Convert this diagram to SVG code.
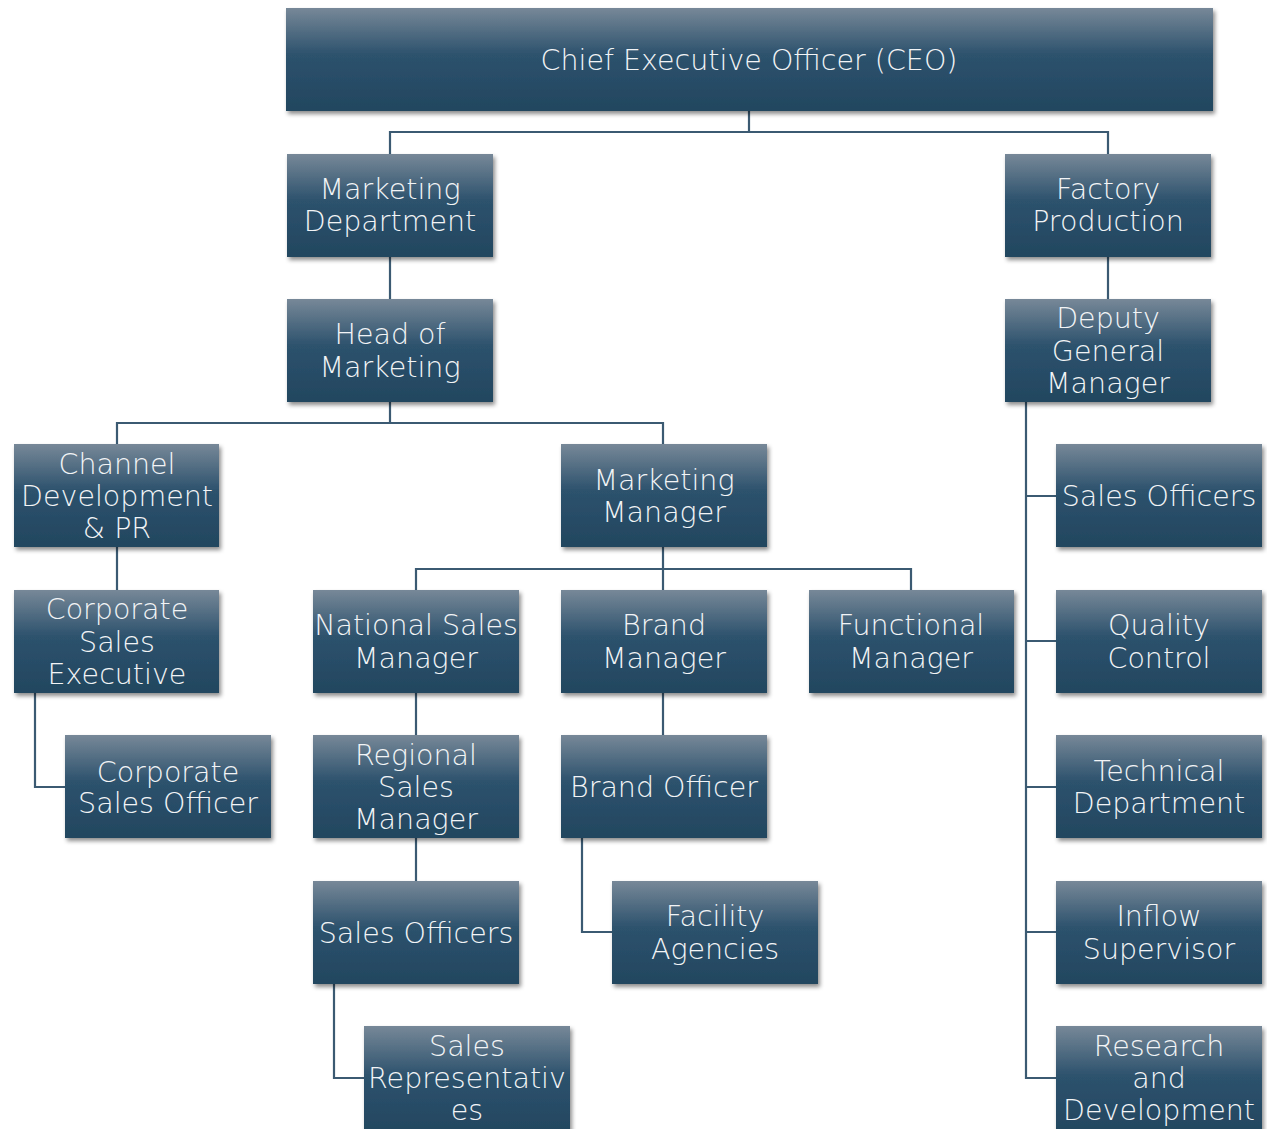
<svg xmlns="http://www.w3.org/2000/svg" width="1267" height="1129" viewBox="0 0 1267 1129">
<defs>
<linearGradient id="g" x1="0" y1="0" x2="0" y2="1">
<stop offset="0" stop-color="#778898"/>
<stop offset="0.45" stop-color="#2d526d"/>
<stop offset="1" stop-color="#22465f"/>
</linearGradient>
<filter id="sh" x="-10%" y="-10%" width="125%" height="130%">
<feDropShadow dx="2" dy="3" stdDeviation="2.2" flood-color="#000" flood-opacity="0.45"/>
</filter>
</defs>
<style>
.n rect{fill:url(#g);filter:url(#sh)}
.n text{font-family:"DejaVu Sans","Liberation Sans",sans-serif;font-weight:200;font-size:28.5px;fill:#f2f4f6;text-anchor:middle}
.c path{fill:none;stroke:#3b5a72;stroke-width:2.2}
</style>
<rect width="1267" height="1129" fill="#fff"/>
<g class="c">
<path d="M749 111V132M390 154V132H1108V154"/>
<path d="M390 257V299"/>
<path d="M390 402V423M117 444V423H663V444"/>
<path d="M117 547V590"/>
<path d="M35 693V787H65"/>
<path d="M663 547V569M416 590V569H911V590M663 569V590"/>
<path d="M416 693V735"/>
<path d="M416 838V881"/>
<path d="M334 984V1078H364"/>
<path d="M663 693V735"/>
<path d="M582 838V932H612"/>
<path d="M1108 257V299"/>
<path d="M1026 402V1078H1056M1026 496H1056M1026 641H1056M1026 787H1056M1026 932H1056"/>
</g>
<g id="ceo" class="n"><rect x="286" y="8" width="927" height="103"/><text x="749" y="70">Chief Executive Officer (CEO)</text></g>
<g id="mkt-dept" class="n"><rect x="287" y="154" width="206" height="103"/><text x="390" y="199">Marketing</text><text x="390" y="231">Department</text></g>
<g id="factory" class="n"><rect x="1005" y="154" width="206" height="103"/><text x="1108" y="199">Factory</text><text x="1108" y="231">Production</text></g>
<g id="head-mkt" class="n"><rect x="287" y="299" width="206" height="103"/><text x="390" y="344">Head of</text><text x="390" y="377">Marketing</text></g>
<g id="dgm" class="n"><rect x="1005" y="299" width="206" height="103"/><text x="1108" y="328">Deputy</text><text x="1108" y="361">General</text><text x="1108" y="393">Manager</text></g>
<g id="channel" class="n"><rect x="14" y="444" width="205" height="103"/><text x="117" y="474">Channel</text><text x="117" y="506">Development</text><text x="117" y="538">&amp; PR</text></g>
<g id="mkt-mgr" class="n"><rect x="561" y="444" width="206" height="103"/><text x="664" y="490">Marketing</text><text x="664" y="522">Manager</text></g>
<g id="so-r" class="n"><rect x="1056" y="444" width="206" height="103"/><text x="1159" y="506">Sales Officers</text></g>
<g id="cse" class="n"><rect x="14" y="590" width="205" height="103"/><text x="117" y="619">Corporate</text><text x="117" y="652">Sales</text><text x="117" y="684">Executive</text></g>
<g id="nsm" class="n"><rect x="313" y="590" width="206" height="103"/><text x="416" y="635">National Sales</text><text x="416" y="668">Manager</text></g>
<g id="brand-mgr" class="n"><rect x="561" y="590" width="206" height="103"/><text x="664" y="635">Brand</text><text x="664" y="668">Manager</text></g>
<g id="func-mgr" class="n"><rect x="809" y="590" width="205" height="103"/><text x="911" y="635">Functional</text><text x="911" y="668">Manager</text></g>
<g id="qc" class="n"><rect x="1056" y="590" width="206" height="103"/><text x="1159" y="635">Quality</text><text x="1159" y="668">Control</text></g>
<g id="cso" class="n"><rect x="65" y="735" width="206" height="103"/><text x="168" y="782">Corporate</text><text x="168" y="813">Sales Officer</text></g>
<g id="rsm" class="n"><rect x="313" y="735" width="206" height="103"/><text x="416" y="765">Regional</text><text x="416" y="797">Sales</text><text x="416" y="829">Manager</text></g>
<g id="brand-off" class="n"><rect x="561" y="735" width="206" height="103"/><text x="664" y="797">Brand Officer</text></g>
<g id="tech" class="n"><rect x="1056" y="735" width="206" height="103"/><text x="1159" y="781">Technical</text><text x="1159" y="813">Department</text></g>
<g id="so-l" class="n"><rect x="313" y="881" width="206" height="103"/><text x="416" y="943">Sales Officers</text></g>
<g id="facility" class="n"><rect x="612" y="881" width="206" height="103"/><text x="715" y="926">Facility</text><text x="715" y="959">Agencies</text></g>
<g id="inflow" class="n"><rect x="1056" y="881" width="206" height="103"/><text x="1159" y="926">Inflow</text><text x="1159" y="959">Supervisor</text></g>
<g id="sales-rep" class="n"><rect x="364" y="1026" width="206" height="110"/><text x="467" y="1056">Sales</text><text x="467" y="1088">Representativ</text><text x="467" y="1120">es</text></g>
<g id="rnd" class="n"><rect x="1056" y="1026" width="206" height="110"/><text x="1159" y="1056">Research</text><text x="1159" y="1088">and</text><text x="1159" y="1120">Development</text></g>
</svg>
